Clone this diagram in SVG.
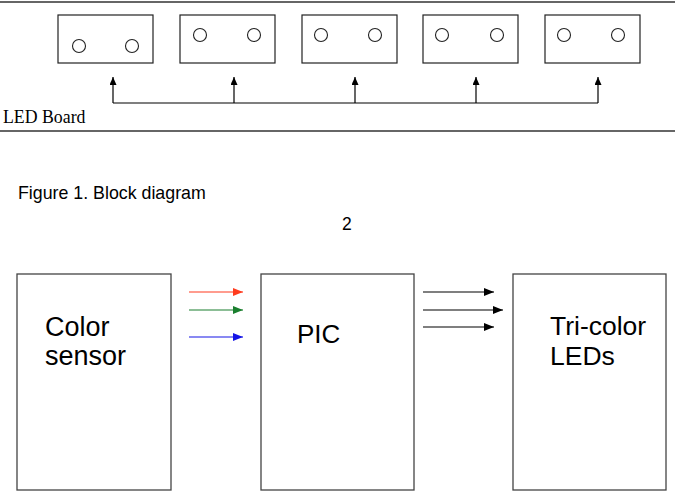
<svg xmlns="http://www.w3.org/2000/svg" width="675" height="496" viewBox="0 0 675 496">
  <style>
    .rule { stroke: #666; stroke-width: 2; fill: none; }
    .board { fill: #fff; stroke: #222; stroke-width: 1.2; }
    .led { fill: #fff; stroke: #222; stroke-width: 1.1; }
    .block { fill: #fff; stroke: #444; stroke-width: 1.3; }
    .wire { stroke: #000; stroke-width: 1.2; fill: none; }
    .serif { font-family: "Liberation Serif", "Times New Roman", serif; fill: #000; }
    .sans { font-family: "Liberation Sans", Arial, Helvetica, sans-serif; fill: #000; }
  </style>
  <defs>
    <marker id="tipBlack" viewBox="0 0 10 8" refX="10" refY="4" markerWidth="10" markerHeight="8" markerUnits="userSpaceOnUse" orient="auto">
      <path d="M0,0 L10,4 L0,8 Z" fill="#000"/>
    </marker>
    <marker id="tipSmall" viewBox="0 0 8 7" refX="8" refY="3.5" markerWidth="8" markerHeight="7" markerUnits="userSpaceOnUse" orient="auto">
      <path d="M0,0 L8,3.5 L0,7 Z" fill="#000"/>
    </marker>
    <marker id="tipRed" viewBox="0 0 10 8" refX="10" refY="4" markerWidth="10" markerHeight="8" markerUnits="userSpaceOnUse" orient="auto">
      <path d="M0,0 L10,4 L0,8 Z" fill="#ff3b1e"/>
    </marker>
    <marker id="tipGreen" viewBox="0 0 10 8" refX="10" refY="4" markerWidth="10" markerHeight="8" markerUnits="userSpaceOnUse" orient="auto">
      <path d="M0,0 L10,4 L0,8 Z" fill="#1a7f2e"/>
    </marker>
    <marker id="tipBlue" viewBox="0 0 10 8" refX="10" refY="4" markerWidth="10" markerHeight="8" markerUnits="userSpaceOnUse" orient="auto">
      <path d="M0,0 L10,4 L0,8 Z" fill="#1414e6"/>
    </marker>
  </defs>

  <rect width="675" height="496" fill="#fff"/>

  <!-- LED board frame -->
  <line class="rule" x1="0" y1="2" x2="675" y2="2"/>
  <line class="rule" x1="0" y1="131" x2="675" y2="131" stroke="#444"/>
  <text class="serif" x="3" y="123" font-size="17.8">LED Board</text>

  <!-- LED modules -->
  <g id="led1">
    <rect class="board" x="58" y="15" width="95" height="48"/>
    <circle class="led" cx="79" cy="46" r="6.5"/>
    <circle class="led" cx="132" cy="46" r="6.5"/>
  </g>
  <g id="led2">
    <rect class="board" x="180" y="15" width="95" height="48"/>
    <circle class="led" cx="200" cy="35" r="6.5"/>
    <circle class="led" cx="254" cy="35" r="6.5"/>
  </g>
  <g id="led3">
    <rect class="board" x="302" y="15" width="95" height="48"/>
    <circle class="led" cx="321" cy="35" r="6.5"/>
    <circle class="led" cx="375" cy="35" r="6.5"/>
  </g>
  <g id="led4">
    <rect class="board" x="423" y="15" width="95" height="48"/>
    <circle class="led" cx="442" cy="35" r="6.5"/>
    <circle class="led" cx="497" cy="35" r="6.5"/>
  </g>
  <g id="led5">
    <rect class="board" x="545" y="15" width="95" height="48"/>
    <circle class="led" cx="564" cy="35" r="6.5"/>
    <circle class="led" cx="618" cy="35" r="6.5"/>
  </g>

  <!-- LED bus -->
  <g id="bus">
    <line class="wire" x1="113" y1="103" x2="598" y2="103"/>
    <line class="wire" x1="113" y1="103" x2="113" y2="77" marker-end="url(#tipSmall)"/>
    <line class="wire" x1="234" y1="103" x2="234" y2="77" marker-end="url(#tipSmall)"/>
    <line class="wire" x1="355" y1="103" x2="355" y2="77" marker-end="url(#tipSmall)"/>
    <line class="wire" x1="476" y1="103" x2="476" y2="77" marker-end="url(#tipSmall)"/>
    <line class="wire" x1="598" y1="103" x2="598" y2="77" marker-end="url(#tipSmall)"/>
  </g>

  <text class="sans" x="18" y="199" font-size="17.8">Figure 1. Block diagram</text>
  <text class="sans" x="342" y="230" font-size="17.5">2</text>

  <!-- Block diagram -->
  <g id="sensor">
    <rect class="block" x="17" y="274" width="154" height="216"/>
    <text class="sans" x="45" y="336" font-size="27">Color</text>
    <text class="sans" x="45" y="365" font-size="27">sensor</text>
  </g>
  <g id="pic">
    <rect class="block" x="261" y="274" width="153" height="216"/>
    <text class="sans" x="297" y="343" font-size="26">PIC</text>
  </g>
  <g id="leds">
    <rect class="block" x="513" y="274" width="153" height="216"/>
    <text class="sans" x="550" y="335" font-size="26.5">Tri-color</text>
    <text class="sans" x="550" y="365" font-size="26.5">LEDs</text>
  </g>

  <g id="connectors">
    <line x1="189" y1="292" x2="243" y2="292" stroke="#ff3b1e" stroke-width="1.2" marker-end="url(#tipRed)"/>
    <line x1="189" y1="310" x2="243" y2="310" stroke="#1a7f2e" stroke-width="1.2" marker-end="url(#tipGreen)"/>
    <line x1="189" y1="337" x2="243" y2="337" stroke="#1414e6" stroke-width="1.2" marker-end="url(#tipBlue)"/>
    <line class="wire" x1="423" y1="292" x2="494" y2="292" marker-end="url(#tipBlack)"/>
    <line class="wire" x1="423" y1="310" x2="503" y2="310" marker-end="url(#tipBlack)"/>
    <line class="wire" x1="423" y1="327" x2="494" y2="327" marker-end="url(#tipBlack)"/>
  </g>
</svg>
